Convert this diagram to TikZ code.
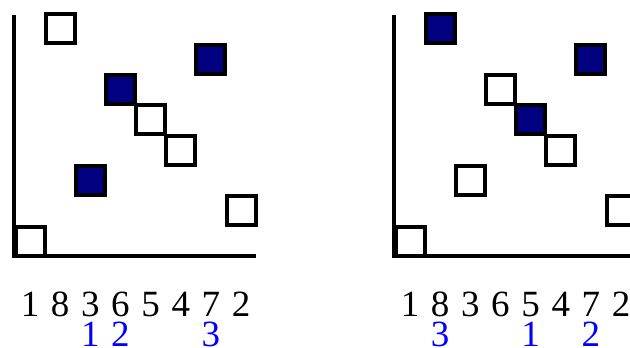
\documentclass[tikz,border=0pt]{standalone}
\usepackage{fontspec}
\setmainfont{Liberation Serif}
\definecolor{navyfill}{RGB}{0,0,128}
\definecolor{labelblue}{RGB}{0,0,255}
\begin{document}
\begin{tikzpicture}[x=1pt,y=-1pt,
  cell/.style={draw=black,line width=4pt,minimum size=29pt,inner sep=0pt,fill=white},
  hit/.style={cell,fill=navyfill},
  axisline/.style={line width=4pt,line cap=butt},
  digit/.style={inner sep=0pt,font=\fontsize{37}{40}\selectfont},
  marknum/.style={digit,text=labelblue}]
\useasboundingbox (0,0) rectangle (630,348);
% ---------- left diagram ----------
\coordinate (Ltop) at (14,15);
\coordinate (Lbottom) at (14,258);
\coordinate (Lleft) at (12,256);
\coordinate (Lright) at (256,256);
\draw[axisline] (Ltop) -- (Lbottom);
\draw[axisline] (Lleft) -- (Lright);
\foreach \i/\v/\s in {1/1/cell,2/8/cell,3/3/hit,4/6/hit,5/5/cell,6/4/cell,7/7/hit,8/2/cell}{
  \node[\s] (L\i) at ({30+30.15*(\i-1)},{241-30.3*(\v-1)}) {};
  \node[digit] (Ld\i) at ({30+30.15*(\i-1)},304.5) {\v};
}
\node[marknum] (Lb3) at ({30+30.15*2},334) {1};
\node[marknum] (Lb4) at ({30+30.15*3},334) {2};
\node[marknum] (Lb7) at ({30+30.15*6},334) {3};
% ---------- right diagram ----------
\coordinate (Rtop) at (394,15);
\coordinate (Rbottom) at (394,258);
\coordinate (Rleft) at (392,256);
\coordinate (Rright) at (640,256);
\draw[axisline] (Rtop) -- (Rbottom);
\draw[axisline] (Rleft) -- (Rright);
\foreach \i/\v/\s in {1/1/cell,2/8/hit,3/3/cell,4/6/cell,5/5/hit,6/4/cell,7/7/hit,8/2/cell}{
  \node[\s] (R\i) at ({410+30.15*(\i-1)},{241-30.3*(\v-1)}) {};
  \node[digit] (Rd\i) at ({410+30.15*(\i-1)},304.5) {\v};
}
\node[marknum] (Rb2) at ({410+30.15*1},334) {3};
\node[marknum] (Rb5) at ({410+30.15*4},334) {1};
\node[marknum] (Rb7) at ({410+30.15*6},334) {2};
\end{tikzpicture}
\end{document}
